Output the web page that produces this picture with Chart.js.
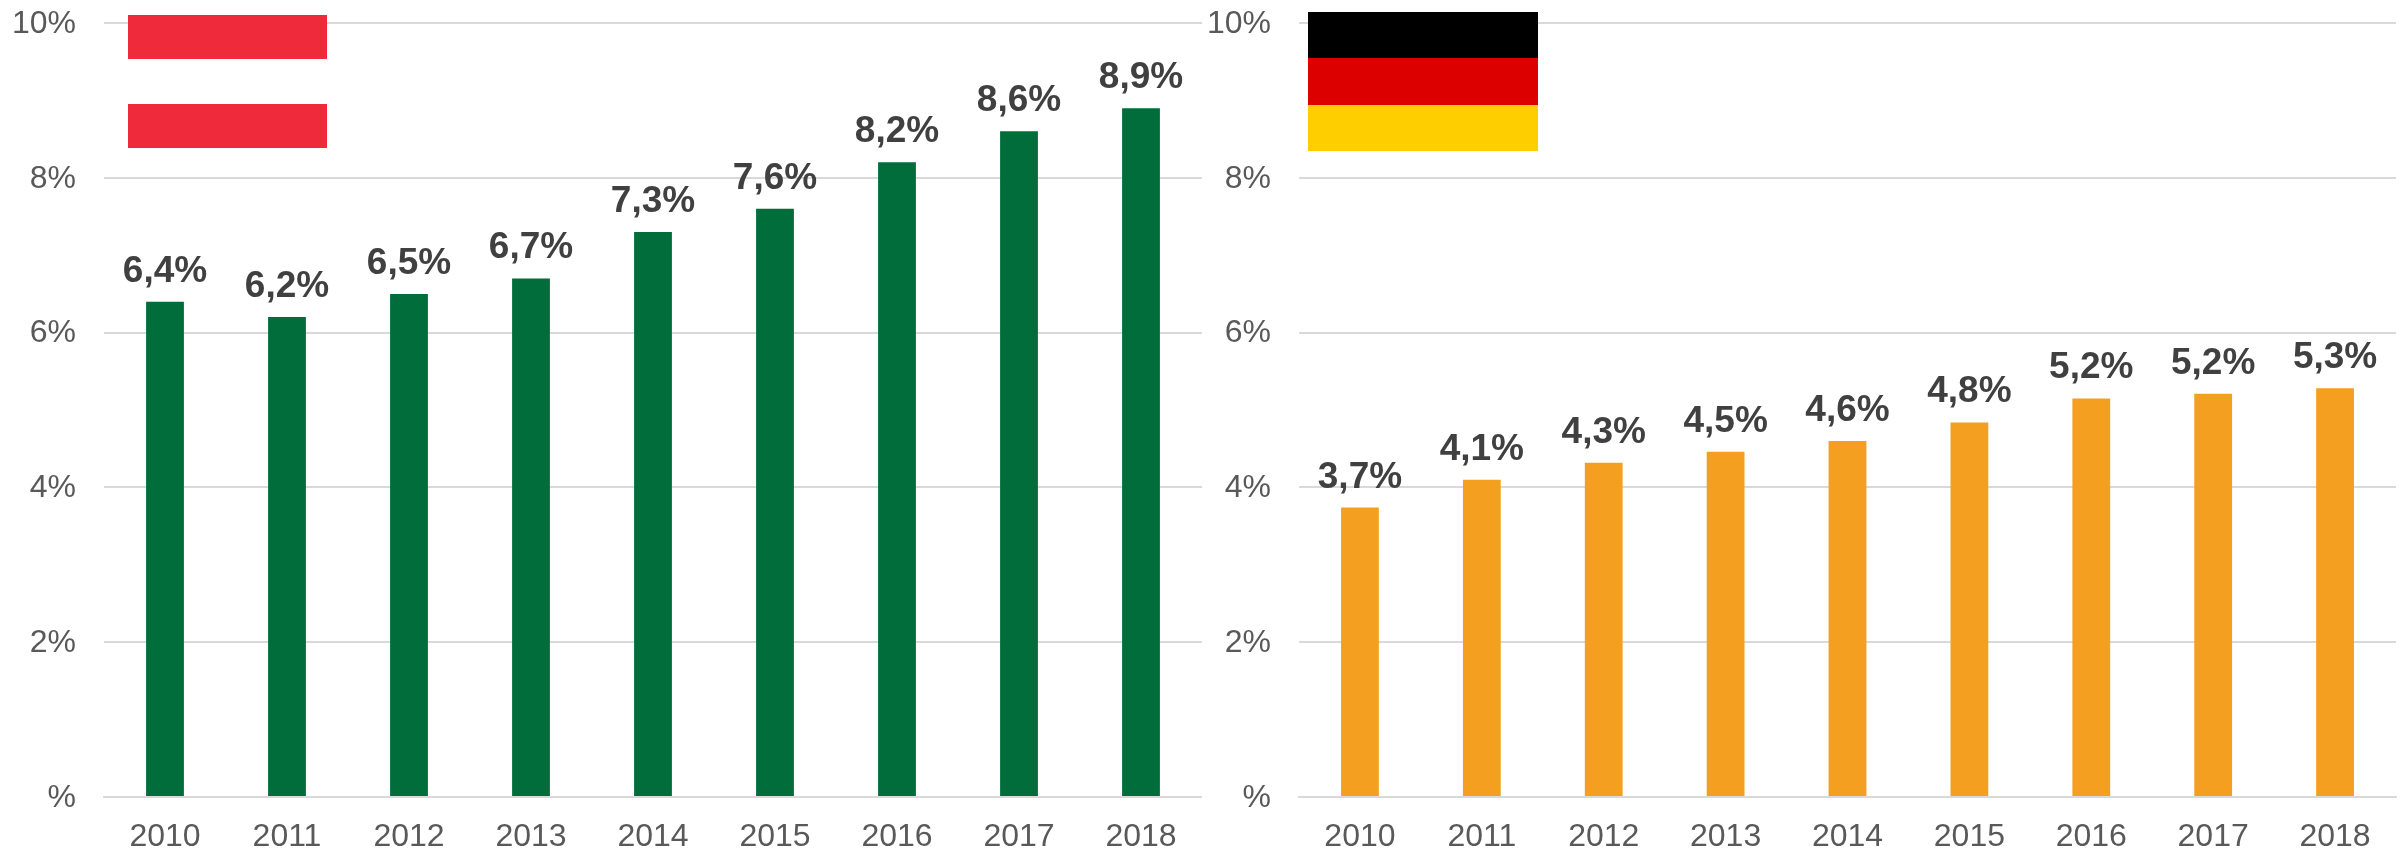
<!DOCTYPE html>
<html>
<head>
<meta charset="utf-8">
<title>Austria / Germany 2010-2018</title>
<script src="https://cdn.jsdelivr.net/npm/chart.js@4"></script>
<style>
  html, body { margin: 0; padding: 0; background: #fff; }
  body { position: relative; width: 2405px; height: 849px; overflow: hidden; }
  .box { position: absolute; top: 0; height: 849px; }
  .stripe { position: absolute; }
</style>
</head>
<body>
<div class="box" style="left:0;width:1202px"><canvas id="chartAustria"></canvas></div>
<div class="box" style="left:1202px;width:1203px"><canvas id="chartGermany"></canvas></div>

<!-- Flags -->
<div class="stripe" style="left:128px;top:15px;width:199px;height:44px;background:#ef2b3b"></div>
<div class="stripe" style="left:128px;top:104px;width:199px;height:44px;background:#ef2b3b"></div>
<div class="stripe" style="left:1308px;top:12px;width:230px;height:46px;background:#000000"></div>
<div class="stripe" style="left:1308px;top:58px;width:230px;height:47px;background:#dd0000"></div>
<div class="stripe" style="left:1308px;top:105px;width:230px;height:46px;background:#ffce00"></div>

<script>
// Categories and tick labels
const years = ["2010", "2011", "2012", "2013", "2014", "2015", "2016", "2017", "2018"];
const yTickLabels = ["%", "2%", "4%", "6%", "8%", "10%"];

// Series values
const austriaValues = [6.4, 6.2, 6.5, 6.7, 7.3, 7.6, 8.2, 8.6, 8.9];
const germanyValues = [3.74, 4.1, 4.32, 4.46, 4.6, 4.84, 5.15, 5.21, 5.28];

// Printed labels above the bars
const austriaLabels = ["6,4%", "6,2%", "6,5%", "6,7%", "7,3%", "7,6%", "8,2%", "8,6%", "8,9%"];
const germanyLabels = ["3,7%", "4,1%", "4,3%", "4,5%", "4,6%", "4,8%", "5,2%", "5,2%", "5,3%"];

const fontName = '"Liberation Sans", Arial, sans-serif';

// Draws the printed value above each bar
const valueLabels = {
  id: "valueLabels",
  afterDatasetsDraw(chart, args, options) {
    const ctx = chart.ctx;
    ctx.save();
    ctx.font = "bold 37px " + fontName;
    ctx.fillStyle = "#404040";
    ctx.textAlign = "center";
    ctx.textBaseline = "alphabetic";
    chart.getDatasetMeta(0).data.forEach((bar, i) => {
      ctx.fillText(options.texts[i], bar.x, bar.y - 20);
    });
    ctx.restore();
  },
};

function renderChart(id, values, labels, color, yAxisWidth, rightPad) {
  const ctx = document.getElementById(id).getContext("2d");
  new Chart(ctx, {
    type: "bar",
    data: {
      labels: years,
      datasets: [{
        data: values,
        backgroundColor: color,
        categoryPercentage: 1,
        barPercentage: 0.31,
      }],
    },
    plugins: [valueLabels],
    options: {
      responsive: true,
      maintainAspectRatio: false,
      animation: false,
      layout: { padding: { top: 23, right: rightPad, left: 0, bottom: 0 } },
      plugins: {
        legend: { display: false },
        title: { display: false },
        tooltip: { enabled: false },
        valueLabels: { texts: labels },
      },
      scales: {
        x: {
          grid: { display: false },
          border: { display: true, color: "#d9d9d9", width: 2, z: 1 },
          ticks: {
            color: "#595959",
            font: { family: fontName, size: 32 },
            padding: 13,
            maxRotation: 0,
            autoSkip: false,
          },
          afterFit(scale) {
            scale.height = 52;
            scale.paddingLeft = 0;
            scale.paddingRight = 0;
          },
        },
        y: {
          min: 0,
          max: 10,
          grid: { color: "#d9d9d9", lineWidth: 2, drawTicks: false },
          border: { display: false },
          ticks: {
            stepSize: 2,
            color: "#595959",
            font: { family: fontName, size: 32 },
            padding: 28,
            labelOffset: 1,
            callback: (value) => yTickLabels[value / 2],
          },
          afterFit(scale) {
            scale.width = yAxisWidth;
            // tick padding otherwise pushes the 10% line down
            scale.paddingTop = 0;
            scale.paddingBottom = 0;
          },
        },
      },
    },
  });
}

renderChart("chartAustria", austriaValues, austriaLabels, "#006d3b", 104, 0);
renderChart("chartGermany", germanyValues, germanyLabels, "#f49f20", 97, 9);
</script>
</body>
</html>
